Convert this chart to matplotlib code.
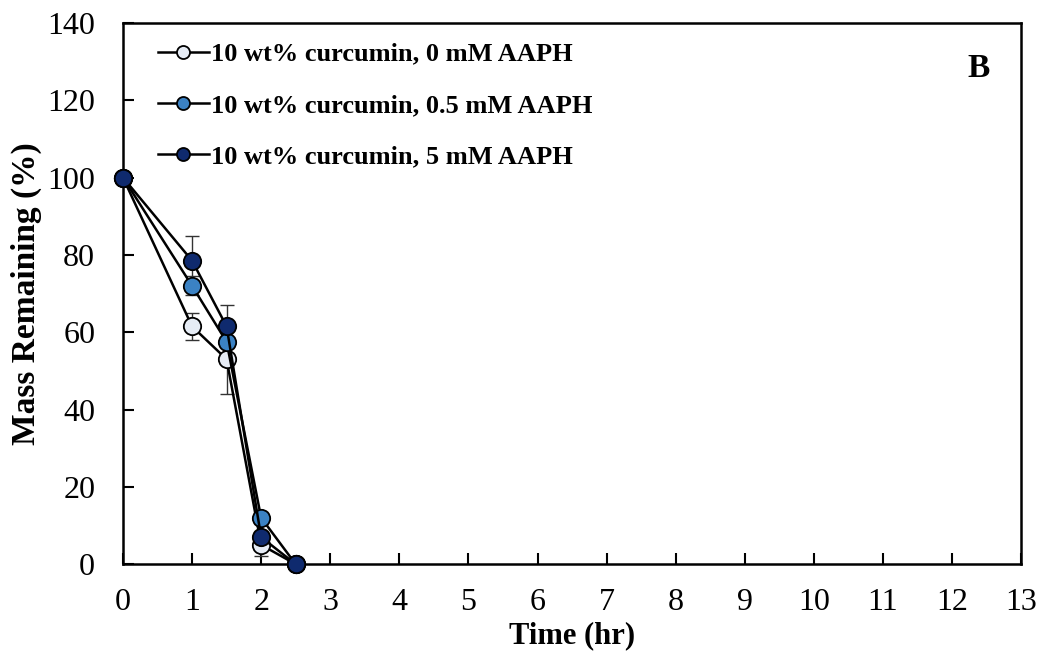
import matplotlib.pyplot as plt
import matplotlib

matplotlib.rcParams['font.family'] = 'Liberation Serif'

time = [0, 1, 1.5, 2, 2.5]
mass_0mM = [100, 61.5, 53, 5, 0]
err_0mM = [0, 3.5, 9, 3, 0]
mass_05mM = [100, 72, 57.5, 12, 0]
err_05mM = [0, 2.5, 3, 1.5, 0]
mass_5mM = [100, 78.5, 61.5, 7, 0]
err_5mM = [0, 6.5, 5.5, 1.5, 0]

labels = ['10 wt% curcumin, 0 mM AAPH',
          '10 wt% curcumin, 0.5 mM AAPH',
          '10 wt% curcumin, 5 mM AAPH']
colours = ['#e6ecf5', '#3b82c4', '#0f2a6e']

fig = plt.figure(figsize=[10.42, 6.53], dpi=100)
ax = fig.add_axes([0.118, 0.136, 0.862, 0.829])

for y, e, c, lab in zip([mass_0mM, mass_05mM, mass_5mM],
                        [err_0mM, err_05mM, err_5mM], colours, labels):
    ax.errorbar(time, y, yerr=e, fmt='none', ecolor='#333333', elinewidth=1,
                capsize=5, clip_on=False)
    ax.plot(time, y, color='black', lw=1.8, marker='o', markersize=12.5,
            markerfacecolor=c, markeredgecolor='black', markeredgewidth=1.3,
            label=lab, clip_on=False, zorder=3)

ax.set_xlim(0, 13)
ax.set_ylim(0, 140)
ax.set_xticks(range(0, 14))
ax.set_yticks(range(0, 141, 20))
ax.tick_params(direction='in', length=8, width=1.5, labelsize=23, top=False, right=False)
ax.tick_params(axis='x', pad=17)
ax.tick_params(axis='y', pad=20)
for s in ax.spines.values():
    s.set_linewidth(1.8)

ax.set_xlabel('Time (hr)', fontsize=22, fontweight='bold', labelpad=3)
ax.set_ylabel('Mass Remaining (%)', fontsize=24, fontweight='bold', labelpad=4)

leg = ax.legend(loc='upper left', bbox_to_anchor=(0.013, 1.008), frameon=False,
                prop={'size': 19, 'weight': 'bold'}, handlelength=1.9,
                handletextpad=0.1, labelspacing=1.05, markerscale=0.75)

ax.text(0.965, 0.915, 'B', transform=ax.transAxes, fontsize=24, fontweight='bold',
        ha='right', va='center')

plt.savefig('out.png', dpi=100)
